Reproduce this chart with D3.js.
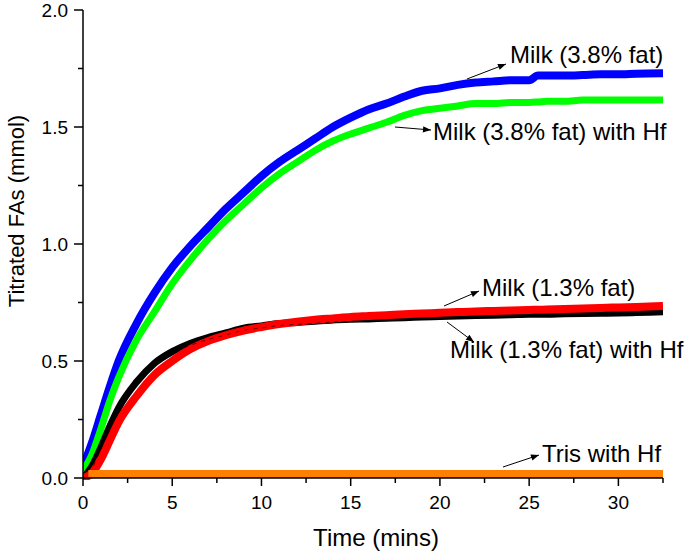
<!DOCTYPE html>
<html>
<head>
<meta charset="utf-8">
<script src="https://cdn.jsdelivr.net/npm/d3@7/dist/d3.min.js"></script>
<style>
  html, body { margin: 0; padding: 0; background: #fff; }
  svg { display: block; font-family: "Liberation Sans", Arial, Helvetica, sans-serif; }
</style>
</head>
<body>
<svg id="chart" width="689" height="553"></svg>
<script>
// ---- Data ----
const times = [0, 0.5, 1, 1.5, 2, 3, 4, 5, 6, 7, 8, 9, 10, 11, 12, 13, 14, 15, 16, 17, 18, 19, 20, 21, 22, 23, 24, 25, 25.5, 26, 27, 28, 29, 30, 31, 32.5];
const milk38 = [0.05, 0.15, 0.27, 0.39, 0.50, 0.66, 0.79, 0.90, 0.99, 1.07, 1.15, 1.22, 1.29, 1.35, 1.40, 1.45, 1.50, 1.54, 1.575, 1.60, 1.63, 1.655, 1.665, 1.68, 1.69, 1.695, 1.70, 1.70, 1.72, 1.72, 1.72, 1.722, 1.725, 1.725, 1.728, 1.73];
const milk38Hf = [0.03, 0.10, 0.21, 0.33, 0.43, 0.59, 0.71, 0.83, 0.93, 1.02, 1.10, 1.17, 1.24, 1.30, 1.35, 1.40, 1.44, 1.47, 1.495, 1.52, 1.55, 1.57, 1.58, 1.59, 1.60, 1.60, 1.605, 1.605, 1.607, 1.61, 1.61, 1.615, 1.615, 1.615, 1.615, 1.615];
const milk13 = [0.0, 0.05, 0.13, 0.22, 0.30, 0.41, 0.49, 0.54, 0.575, 0.60, 0.62, 0.64, 0.65, 0.66, 0.665, 0.67, 0.675, 0.678, 0.68, 0.683, 0.685, 0.688, 0.69, 0.692, 0.694, 0.696, 0.698, 0.70, 0.70, 0.70, 0.702, 0.703, 0.704, 0.705, 0.707, 0.71];
const milk13Hf = [0.0, 0.02, 0.08, 0.16, 0.24, 0.35, 0.44, 0.50, 0.55, 0.585, 0.61, 0.63, 0.645, 0.658, 0.668, 0.676, 0.682, 0.688, 0.692, 0.696, 0.70, 0.703, 0.706, 0.709, 0.712, 0.714, 0.716, 0.718, 0.719, 0.72, 0.722, 0.724, 0.727, 0.729, 0.731, 0.735];
const trisTimes = [0.3, 5, 10, 15, 20, 25, 30, 32.5];
const trisHf = [0.017, 0.017, 0.017, 0.017, 0.017, 0.017, 0.017, 0.017];

const xTicks = [0, 5, 10, 15, 20, 25, 30];
const xMinor = [2.5, 7.5, 12.5, 17.5, 22.5, 27.5, 32.5];
const yTicks = [0.0, 0.5, 1.0, 1.5, 2.0];
const yMinor = [0.25, 0.75, 1.25, 1.75];

const seriesNames = ["Milk (3.8% fat)", "Milk (3.8% fat) with Hf", "Milk (1.3% fat)", "Milk (1.3% fat) with Hf", "Tris with Hf"];

// ---- Layout ----
const svg = d3.select("#chart");
const pL = 83, pR = 663, pT = 10, pB = 478;
const x = d3.scaleLinear().domain([0, 32.5]).range([pL, pR]);
const y = d3.scaleLinear().domain([0, 2.0]).range([pB, pT]);

const defs = svg.append("defs");
defs.append("clipPath").attr("id", "clip")
  .append("rect").attr("x", pL).attr("y", pT).attr("width", pR - pL).attr("height", pB - pT + 2);

defs.append("marker")
  .attr("id", "arrow").attr("viewBox", "0 0 10 10").attr("refX", 10).attr("refY", 5)
  .attr("markerWidth", 12).attr("markerHeight", 8).attr("markerUnits", "userSpaceOnUse")
  .attr("orient", "auto")
  .append("path").attr("d", "M0,1 L10,5 L0,9 Z").attr("fill", "#000");

const plot = svg.append("g").attr("clip-path", "url(#clip)");

function drawSeries(ts, vals, color, width) {
  const pts = ts.map((t, i) => [t, vals[i]]);
  const line = d3.line().x(d => x(d[0])).y(d => y(d[1])).curve(d3.curveMonotoneX);
  plot.append("path").datum(pts).attr("d", line)
    .attr("fill", "none").attr("stroke", color).attr("stroke-width", width)
    .attr("stroke-linejoin", "round").attr("stroke-linecap", "butt");
}

drawSeries(times, milk38, "#0000ff", 8);
drawSeries(times, milk38Hf, "#00ff00", 7);
drawSeries(times, milk13, "#000000", 7);
drawSeries(times, milk13Hf, "#ff0000", 8);
// faint black markers visible through red
(function () {
  const pts = times.map((t, i) => [t, milk13[i]]);
  const line = d3.line().x(d => x(d[0])).y(d => y(d[1])).curve(d3.curveMonotoneX);
  plot.append("path").datum(pts).attr("d", line)
    .attr("fill", "none").attr("stroke", "#000").attr("stroke-width", 1)
    .attr("stroke-dasharray", "4,5").attr("opacity", 0.6)
    .attr("transform", "translate(0,2)");
})();
drawSeries(trisTimes, trisHf, "#ff8000", 8);

// ---- Axes ----
const axisColor = "#000";
const xAxis = svg.append("g").attr("transform", `translate(0,${pB})`);
xAxis.append("line").attr("x1", pL).attr("x2", pR).attr("y1", 0).attr("y2", 0)
  .attr("stroke", axisColor).attr("stroke-width", 1.5);
xAxis.selectAll(".maj").data(xTicks).enter().append("line")
  .attr("x1", d => x(d)).attr("x2", d => x(d)).attr("y1", 0).attr("y2", 8)
  .attr("stroke", axisColor).attr("stroke-width", 1.5);
xAxis.selectAll(".min").data(xMinor).enter().append("line")
  .attr("x1", d => x(d)).attr("x2", d => x(d)).attr("y1", 0).attr("y2", 5)
  .attr("stroke", axisColor).attr("stroke-width", 1.5);
xAxis.selectAll(".lbl").data(xTicks).enter().append("text")
  .attr("x", d => x(d)).attr("y", 31).attr("text-anchor", "middle")
  .attr("font-size", 19).attr("fill", "#000").text(d => d);

const yAxis = svg.append("g");
yAxis.append("line").attr("x1", pL).attr("x2", pL).attr("y1", pT).attr("y2", pB)
  .attr("stroke", axisColor).attr("stroke-width", 1.5);
yAxis.selectAll(".maj").data(yTicks).enter().append("line")
  .attr("x1", pL - 9).attr("x2", pL).attr("y1", d => y(d)).attr("y2", d => y(d))
  .attr("stroke", axisColor).attr("stroke-width", 1.5);
yAxis.selectAll(".min").data(yMinor).enter().append("line")
  .attr("x1", pL - 5).attr("x2", pL).attr("y1", d => y(d)).attr("y2", d => y(d))
  .attr("stroke", axisColor).attr("stroke-width", 1.5);
yAxis.selectAll(".lbl").data(yTicks).enter().append("text")
  .attr("x", 68).attr("y", d => y(d) + 7).attr("text-anchor", "end")
  .attr("font-size", 19).attr("fill", "#000").text(d => d.toFixed(1));

svg.append("text").attr("x", (pL + pR) / 2 + 3).attr("y", 546)
  .attr("text-anchor", "middle").attr("font-size", 24).attr("fill", "#000").text("Time (mins)");
svg.append("text").attr("transform", "translate(24,211) rotate(-90)")
  .attr("text-anchor", "middle").attr("font-size", 22).attr("fill", "#000").text("Titrated FAs (mmol)");

// ---- Annotations ----
const notes = [
  { text: seriesNames[0], tx: 510, ty: 63, ax1: 467, ay1: 79, ax2: 506, ay2: 64 },
  { text: seriesNames[1], tx: 433, ty: 140, ax1: 395, ay1: 127, ax2: 431, ay2: 130 },
  { text: seriesNames[2], tx: 482, ty: 296, ax1: 444, ay1: 306, ax2: 479, ay2: 291 },
  { text: seriesNames[3], tx: 450, ty: 358, ax1: 447, ay1: 322, ax2: 474, ay2: 342 },
  { text: seriesNames[4], tx: 542, ty: 462, ax1: 503, ay1: 467, ax2: 539, ay2: 455 }
];
const ann = svg.append("g");
notes.forEach(n => {
  ann.append("line").attr("x1", n.ax1).attr("y1", n.ay1).attr("x2", n.ax2).attr("y2", n.ay2)
    .attr("stroke", "#000").attr("stroke-width", 1).attr("marker-end", "url(#arrow)");
  ann.append("text").attr("x", n.tx).attr("y", n.ty).attr("font-size", 24).attr("fill", "#000").text(n.text);
});
</script>
</body>
</html>
